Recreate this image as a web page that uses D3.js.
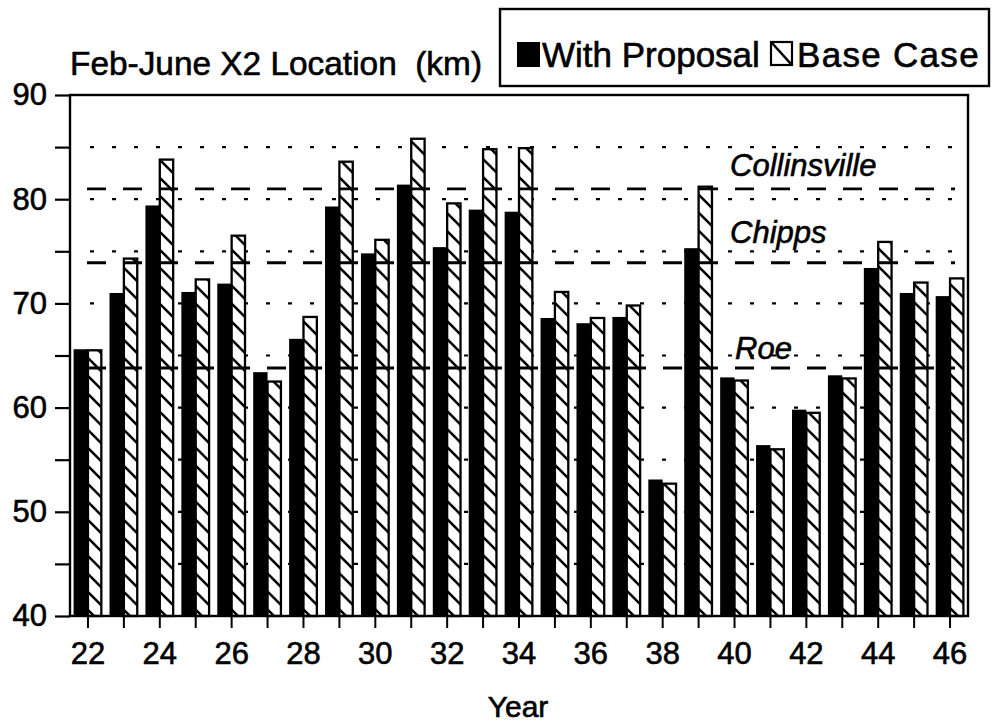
<!DOCTYPE html>
<html>
<head>
<meta charset="utf-8">
<script src="https://cdn.jsdelivr.net/npm/d3@7"></script>
<style>
  html, body { margin: 0; padding: 0; background: #fff; }
  svg { display: block; }
  text { font-family: "Liberation Sans", Arial, Helvetica, sans-serif; fill: #000; stroke: #000; stroke-width: 0.6px; }
</style>
</head>
<body>
<svg id="chart" width="992" height="722"></svg>
<script>
const years = [22, 23, 24, 25, 26, 27, 28, 29, 30, 31, 32, 33, 34, 35, 36, 37, 38, 39, 40, 41, 42, 43, 44, 45, 46];
const withProposal = [65.6, 71.0, 79.4, 71.1, 71.9, 63.4, 66.6, 79.3, 74.8, 81.4, 75.4, 79.0, 78.8, 68.6, 68.1, 68.7, 53.1, 75.3, 62.9, 56.4, 59.8, 63.1, 73.4, 71.0, 70.7];
const baseCase = [65.5, 74.3, 83.8, 72.3, 76.5, 62.5, 68.7, 83.6, 76.1, 85.8, 79.6, 84.8, 84.9, 71.1, 68.6, 69.8, 52.7, 81.2, 62.6, 56.0, 59.5, 62.8, 75.9, 72.0, 72.4];
const seriesNames = ["With Proposal", "Base Case"];
const refNames = ["Collinsville", "Chipps", "Roe"];
const refValues = [81.0, 73.9, 63.8];
const gridValues = [45, 50, 55, 60, 65, 70, 75, 80, 85];
const yTickValues = [40, 45, 50, 55, 60, 65, 70, 75, 80, 85, 90];
const xLabelYears = [22, 24, 26, 28, 30, 32, 34, 36, 38, 40, 42, 44, 46];

const svg = d3.select("#chart");
const L = 70, R = 968, T = 95, B = 616;

const x = d3.scaleBand().domain(years).range([L, R]).paddingInner(0.2).paddingOuter(0.1);
const y = d3.scaleLinear().domain([40, 90]).range([B, T]);
const half = x.bandwidth() / 2;

// hatch pattern
const defs = svg.append("defs");
const pat = defs.append("pattern").attr("id", "hatch").attr("patternUnits", "userSpaceOnUse")
  .attr("width", 18).attr("height", 18);
pat.append("rect").attr("width", 18).attr("height", 18).attr("fill", "#fff");
pat.append("path").attr("d", "M-2,-2 L20,20 M-2,16 L2,20 M16,-2 L20,2")
  .attr("stroke", "#000").attr("stroke-width", 2.6).attr("fill", "none");

// dotted grid lines
svg.append("g").selectAll("line").data(gridValues).join("line")
  .attr("x1", 90).attr("x2", 958)
  .attr("y1", d => y(d)).attr("y2", d => y(d))
  .attr("stroke", "#000").attr("stroke-width", 2.2).attr("stroke-dasharray", "4,18");

// bars
const groups = svg.append("g").selectAll("g").data(years).join("g");
groups.append("rect")
  .attr("x", d => x(d)).attr("width", half)
  .attr("y", (d, i) => y(withProposal[i])).attr("height", (d, i) => B - y(withProposal[i]))
  .attr("fill", "#000");
groups.append("rect")
  .attr("x", d => x(d) + half).attr("width", half - 1)
  .attr("y", (d, i) => y(baseCase[i])).attr("height", (d, i) => B - y(baseCase[i]))
  .attr("fill", "url(#hatch)").attr("stroke", "#000").attr("stroke-width", 2.3);

// reference dashed lines
svg.append("g").selectAll("line").data(refValues).join("line")
  .attr("x1", 87).attr("x2", 955)
  .attr("y1", d => y(d)).attr("y2", d => y(d))
  .attr("stroke", "#000").attr("stroke-width", 2.8).attr("stroke-dasharray", "19,17");

// reference labels
const refLabelX = [730, 730, 735];
const refLabelDy = [-13, -20, -9];
svg.append("g").selectAll("text").data(refNames).join("text")
  .attr("x", (d, i) => refLabelX[i])
  .attr("y", (d, i) => y(refValues[i]) + refLabelDy[i])
  .attr("font-size", 31).attr("font-style", "italic")
  .text(d => d);

// frame
svg.append("rect").attr("x", L).attr("y", T).attr("width", R - L).attr("height", B - T)
  .attr("fill", "none").attr("stroke", "#000").attr("stroke-width", 2.4);

// y axis
const yAxis = svg.append("g").attr("transform", `translate(${L},0)`)
  .call(d3.axisLeft(y).tickValues(yTickValues).tickSize(15).tickPadding(8)
    .tickFormat(d => d % 10 === 0 ? d : ""));
yAxis.select(".domain").remove();
yAxis.selectAll(".tick line").attr("stroke", "#000").attr("stroke-width", 2.2);
yAxis.selectAll("text").attr("font-size", 31).attr("font-family", "Liberation Sans, Arial, sans-serif");

// x axis
const xAxis = svg.append("g").attr("transform", `translate(0,${B})`)
  .call(d3.axisBottom(x).tickSize(12).tickPadding(14)
    .tickFormat(d => xLabelYears.includes(d) ? d : ""));
xAxis.select(".domain").remove();
xAxis.selectAll(".tick line").attr("stroke", "#000").attr("stroke-width", 2);
xAxis.selectAll("text").attr("font-size", 31).attr("font-family", "Liberation Sans, Arial, sans-serif");

// title
svg.append("text").attr("x", 70).attr("y", 75).attr("font-size", 33.4)
  .attr("xml:space", "preserve").style("white-space", "pre")
  .text("Feb-June X2 Location  (km)");

// x axis title
svg.append("text").attr("x", 518).attr("y", 717).attr("text-anchor", "middle")
  .attr("font-size", 30).text("Year");

// legend
svg.append("rect").attr("x", 500).attr("y", 9).attr("width", 489).attr("height", 77)
  .attr("fill", "#fff").attr("stroke", "#000").attr("stroke-width", 2.4);
const legendX = [517, 770];
const legendTextX = [542, 797];
const legendSpacing = [0, 1.3];
const leg = svg.append("g").selectAll("g").data(seriesNames).join("g");
leg.append("rect")
  .attr("x", (d, i) => legendX[i] + (i ? 1 : 0)).attr("y", 42)
  .attr("width", (d, i) => i ? 21 : 23).attr("height", (d, i) => i ? 23 : 25)
  .attr("fill", (d, i) => i ? "#fff" : "#000")
  .attr("stroke", (d, i) => i ? "#000" : "none").attr("stroke-width", 2.2);
leg.filter((d, i) => i === 1).append("line")
  .attr("x1", legendX[1] + 2).attr("y1", 43).attr("x2", legendX[1] + 21).attr("y2", 64)
  .attr("stroke", "#000").attr("stroke-width", 2.6);
leg.append("text")
  .attr("x", (d, i) => legendTextX[i]).attr("y", 67)
  .attr("font-size", 35)
  .attr("letter-spacing", (d, i) => legendSpacing[i])
  .text(d => d);
</script>
</body>
</html>
